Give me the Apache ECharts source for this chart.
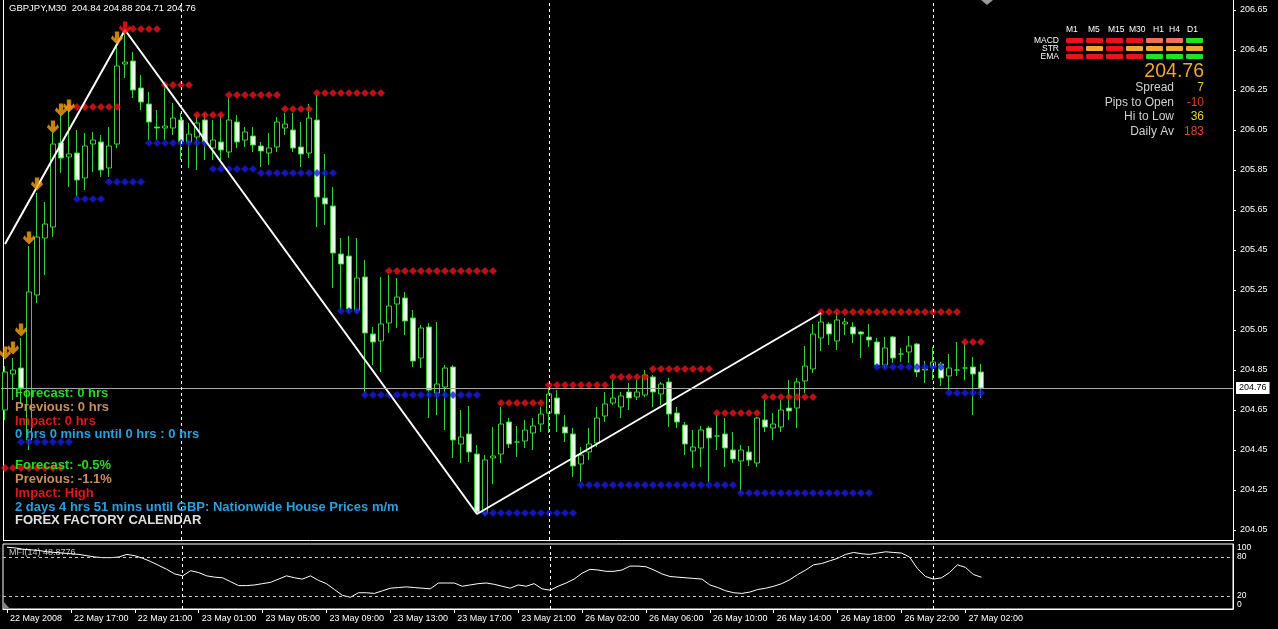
<!DOCTYPE html>
<html><head><meta charset="utf-8">
<script src="https://cdn.jsdelivr.net/npm/echarts@6/dist/echarts.min.js"></script>
<style>html,body{margin:0;padding:0;background:#000;}#c{width:1278px;height:629px;}</style>
</head><body><div id="c"></div>
<script>
// ---------------- DATA ----------------
const symbolTitle = 'GBPJPY,M30';
const headerValues = ['204.84', '204.88', '204.71', '204.76'];

// bar sessions (M30 bars): [day, first bar, last bar]
const daySessions = [['22 May', '13:00', '23:30'], ['23 May', '00:00', '22:30'], ['26 May', '00:00', '23:30'], ['27 May', '00:00', '03:00']];
const totalSlots = 154;

// [open, high, low, close]
const bars = [
  [204.65,204.87,204.60,204.84],[204.83,204.91,204.70,204.85],[204.86,205.01,204.68,204.76],[204.50,205.47,204.45,205.24],
  [205.225,205.735,205.185,205.515],[205.51,205.69,205.325,205.58],[205.565,206.035,205.515,205.98],[205.985,206.125,205.835,205.91],
  [205.915,206.165,205.765,205.93],[205.935,206.05,205.715,205.80],[205.81,206.035,205.75,205.97],[205.98,206.04,205.84,206.00],
  [205.99,206.025,205.815,205.85],[205.86,206.065,205.815,205.97],[205.98,206.475,205.96,206.37],[206.38,206.55,206.31,206.39],
  [206.395,206.44,206.21,206.25],[206.26,206.325,206.15,206.19],[206.18,206.24,206.00,206.09],[206.065,206.15,206.00,206.06],
  [206.06,206.275,206.00,206.07],[206.06,206.185,206.025,206.11],[206.10,206.135,205.90,205.99],[205.99,206.085,205.86,206.03],
  [206.015,206.125,205.85,206.085],[206.10,206.135,205.90,205.99],[205.96,206.10,205.90,206.00],[205.99,206.125,205.90,205.95],
  [205.94,206.21,205.91,206.10],[206.09,206.125,205.96,205.99],[206.00,206.065,205.965,206.04],[206.02,206.065,205.94,205.975],
  [205.97,205.99,205.865,205.945],[205.935,206.035,205.875,205.96],[205.965,206.115,205.94,206.09],[206.06,206.135,206.025,206.08],
  [206.05,206.135,205.94,205.96],[205.965,206.09,205.865,205.93],[205.935,206.18,205.91,206.11],[206.10,206.225,205.565,205.715],
  [205.71,205.93,205.575,205.68],[205.67,205.765,205.26,205.435],[205.43,205.51,205.15,205.38],[205.42,205.52,205.135,205.155],
  [205.15,205.51,205.135,205.31],[205.315,205.40,204.735,205.035],[205.03,205.065,204.875,204.99],[204.995,205.315,204.84,205.08],
  [205.085,205.325,205.035,205.17],[205.18,205.31,205.06,205.215],[205.21,205.24,205.025,205.095],[205.11,205.15,204.865,204.895],
  [204.91,205.075,204.86,205.06],[205.065,205.085,204.61,204.75],[204.735,205.09,204.625,204.78],[204.765,204.875,204.55,204.86],
  [204.865,204.875,204.41,204.50],[204.48,204.65,204.385,204.515],[204.53,204.67,204.39,204.44],[204.43,204.475,204.13,204.14],
  [204.135,204.425,204.125,204.40],[204.41,204.565,204.28,204.42],[204.43,204.665,204.385,204.58],[204.59,204.61,204.46,204.48],
  [204.49,204.57,204.415,204.49],[204.495,204.60,204.46,204.55],[204.535,204.61,204.45,204.57],[204.58,204.665,204.54,204.63],
  [204.635,204.76,204.535,204.73],[204.71,204.75,204.54,204.63],[204.565,204.625,204.49,204.535],[204.53,204.56,204.315,204.37],
  [204.38,204.465,204.29,204.425],[204.44,204.56,204.40,204.48],[204.485,204.665,204.465,204.61],[204.62,204.74,204.59,204.68],
  [204.685,204.80,204.675,204.71],[204.665,204.74,204.61,204.72],[204.74,204.785,204.65,204.71],[204.715,204.80,204.70,204.74],
  [204.725,204.85,204.715,204.825],[204.815,204.825,204.665,204.74],[204.73,204.79,204.675,204.78],[204.79,204.81,204.565,204.63],
  [204.635,204.665,204.56,204.59],[204.575,204.59,204.425,204.48],[204.445,204.55,204.36,204.465],[204.46,204.57,204.365,204.55],
  [204.56,204.57,204.285,204.51],[204.52,204.625,204.45,204.52],[204.53,204.61,204.365,204.46],[204.45,204.54,204.385,204.405],
  [204.395,204.475,204.235,204.45],[204.44,204.47,204.37,204.40],[204.385,204.615,204.365,204.61],[204.60,204.70,204.54,204.565],
  [204.56,204.635,204.50,204.58],[204.565,204.70,204.54,204.65],[204.66,204.80,204.60,204.645],[204.66,204.81,204.56,204.79],
  [204.795,204.97,204.735,204.87],[204.855,205.08,204.835,205.03],[205.01,205.135,204.945,205.09],[205.08,205.09,204.975,205.03],
  [204.995,205.135,204.95,205.10],[205.08,205.11,205.025,205.09],[205.065,205.09,204.985,205.03],[205.04,205.045,204.91,205.03],
  [205.015,205.08,204.965,205.00],[204.99,205.01,204.87,204.875],[204.875,205.015,204.86,204.96],[205.015,205.02,204.885,204.91],
  [204.93,204.96,204.89,204.93],[204.94,205.02,204.885,204.97],[204.98,204.985,204.815,204.84],[204.855,204.895,204.785,204.85],
  [204.865,204.965,204.80,204.89],[204.88,204.89,204.77,204.81],[204.82,204.93,204.75,204.86],[204.85,204.99,204.82,204.85],
  [204.86,204.99,204.80,204.86],[204.865,204.915,204.625,204.83],[204.84,204.88,204.71,204.76]
];

const mfi = [95,94,92,91,90,88,87,86,85,84,82,80,79,79,80,84,82,78,73,67,61,54,51,59,56,51,49,48,42,36,36,37,39,41,46,51,48,46,51,44,
  39,30,21,18,25,25,24,28,32,33,34,33,32,31,40,40,40,35,37,39,40,38,35,32,37,35,39,31,29,35,40,46,55,61,60,58,58,60,66,66,
  65,60,54,50,49,48,47,46,37,33,28,25,24,26,30,32,35,39,45,53,60,68,70,74,78,84,87,85,84,86,88,87,86,80,62,50,46,48,56,68,
  64,53,48.8776];
const mfiLabel = 'MFI(14) 48.8776';

// zigzag pivots: [bar, price]
const zigzag = [[0,205.48],[15,206.55],[59,204.13],[102,205.135]];
// resistance / support dot levels: [firstBar, lastBar, price]
const redLevels = [[0,7,204.36],[8,14,206.165],[16,19,206.555],[20,23,206.275],[24,27,206.125],[28,34,206.225],[35,38,206.155],
  [39,47,206.235],[48,61,205.345],[62,67,204.685],[68,75,204.775],[76,80,204.815],[81,88,204.855],[89,94,204.635],[95,101,204.715],
  [102,119,205.14],[120,122,204.99]];
const blueLevels = [[2,8,204.49],[9,12,205.705],[13,17,205.79],[18,25,205.985],[26,31,205.855],[32,41,205.835],[42,44,205.145],
  [45,59,204.725],[60,71,204.135],[72,91,204.275],[92,108,204.235],[109,117,204.865],[118,122,204.735]];
// down arrows: [bar, price]
const sellArrows = [[0,204.935],[1,204.96],[2,205.05],[3,205.51],[4,205.78],[6,206.065],[7,206.15],[8,206.17],[14,206.51]];
const peakArrow = [[15,206.56]];
const dayBreaks = [22, 68, 116];
const lastPrice = 204.76;
const priceTicks = [204.05,204.25,204.45,204.65,204.85,205.05,205.25,205.45,205.65,205.85,206.05,206.25,206.45,206.65];
const mfiTicks = [100, 80, 20, 0];
const mfiLevels = [80, 20];
const tickBars = [0,8,16,24,32,40,48,56,64,72,80,88,96,104,112,120];
const tickLabels = ['22 May 2008','22 May 17:00','22 May 21:00','23 May 01:00','23 May 05:00','23 May 09:00','23 May 13:00','23 May 17:00',
  '23 May 21:00','26 May 02:00','26 May 06:00','26 May 10:00','26 May 14:00','26 May 18:00','26 May 22:00','27 May 02:00'];

// info panel
const tfLabels = ['M1','M5','M15','M30','H1','H4','D1'];
const rowLabels = ['MACD','STR','EMA'];
const signalRows = [
  ['red','red','red','red','salmon','salmon','green'],
  ['red','orange','red','orange','orange','orange','orange'],
  ['red','red','red','red','green','green','green']
];
const bigPrice = '204.76';
const statLabels = ['Spread','Pips to Open','Hi to Low','Daily Av'];
const statValues = ['7','-10','36','183'];

// news block
const newsLines = [
  ['Forecast: 0 hrs','fc'],['Previous: 0 hrs','pv'],['Impact: 0 hrs','im'],['0 hrs 0 mins until 0 hrs : 0 hrs','un'],
  ['Forecast: -0.5%','fc'],['Previous: -1.1%','pv'],['Impact: High','im'],['2 days 4 hrs 51 mins until GBP: Nationwide House Prices m/m','un'],
  ['FOREX FACTORY CALENDAR','cal']
];

// ---------------- BUILD ----------------
function toMin(s){const p=s.split(':');return +p[0]*60+ +p[1];}
function pad(n){return (n<10?'0':'')+n;}
const categories = [];
daySessions.forEach(([d,a,b])=>{for(let m=toMin(a);m<=toMin(b);m+=30){categories.push(d+' '+pad(Math.floor(m/60))+':'+pad(m%60));}});
for(let k=categories.length;k<totalSlots;k++) categories.push('s'+k);

const candleData = bars.map(b=>[b[0],b[3],b[2],b[1]]);
function levelDots(levels){const out=[];levels.forEach(([a,b,p])=>{for(let i=a;i<=b;i++) out.push([i,p]);});return out;}

const FONT = '"Liberation Sans", Arial, sans-serif';
const GREEN = '#3cd23c';
const sigColor = {red:'#e8141c', salmon:'#f07058', orange:'#f0a830', green:'#1ee61e'};
const newsColor = {fc:'#22dd22', pv:'#c8905a', im:'#e01818', un:'#2aa0e0', cal:'#e0e0e0'};
const arrowPath = 'path://M3.2,0 L6.8,0 L6.8,5.5 L9,3.2 L10,6 L5,11 L0,6 L1,3.2 L3.2,5.5 Z';

const graphics = [];
// frame lines
graphics.push({type:'line',shape:{x1:3.5,y1:0,x2:3.5,y2:540},style:{stroke:'#fff',lineWidth:1}});
graphics.push({type:'line',shape:{x1:3,y1:540.5,x2:1234,y2:540.5},style:{stroke:'#fff',lineWidth:1}});
graphics.push({type:'polygon',shape:{points:[[981,0],[993,0],[987,5]]},style:{fill:'#9a9a9a'}});
graphics.push({type:'polygon',shape:{points:[[4,602],[4,609],[10,609]]},style:{fill:'#808080'}});
// header
graphics.push({type:'text',x:9,y:8,style:{text:symbolTitle+'  '+headerValues.join(' '),fill:'#fff',font:'9.5px '+FONT,align:'left',verticalAlign:'middle'}});
graphics.push({type:'text',x:9,y:553,style:{text:mfiLabel,fill:'#c4c4c4',font:'9px '+FONT,align:'left',verticalAlign:'middle'}});
// info panel
const colX = [1066,1086,1106,1126,1146,1166,1186];
const hdrX = [1066,1088,1108,1129,1153,1169,1187];
tfLabels.forEach((t,k)=>graphics.push({type:'text',x:hdrX[k],y:30,style:{text:t,fill:'#fff',font:'8.5px '+FONT,align:'left',verticalAlign:'middle'}}));
const rowY = [38,46,54];
rowLabels.forEach((t,r)=>{
  graphics.push({type:'text',x:1059,y:rowY[r]+2.5,style:{text:t,fill:'#fff',font:'8.5px '+FONT,align:'right',verticalAlign:'middle'}});
  signalRows[r].forEach((c,k)=>graphics.push({type:'rect',shape:{x:colX[k],y:rowY[r],width:17,height:5,r:1},style:{fill:sigColor[c]}}));
});
graphics.push({type:'text',x:1204,y:72,style:{text:bigPrice,fill:'#f0a830',font:'19.5px '+FONT,align:'right',verticalAlign:'middle'}});
const statY = [88,102.5,117,132];
const statCol = ['#e8c838','#d84020','#e8d040','#d85018'];
statLabels.forEach((t,k)=>{
  graphics.push({type:'text',x:1174,y:statY[k],style:{text:t,fill:'#d0d0d0',font:'12px '+FONT,align:'right',verticalAlign:'middle'}});
  graphics.push({type:'text',x:1204,y:statY[k],style:{text:statValues[k],fill:statCol[k],font:'12px '+FONT,align:'right',verticalAlign:'middle'}});
});
// news text
const newsY = [393,407,421,434.5,465,479,493,507,520];
newsLines.forEach(([t,c],k)=>graphics.push({type:'text',x:15,y:newsY[k],z:100,style:{text:t,fill:newsColor[c],font:'bold 13px '+FONT,align:'left',verticalAlign:'middle'}}));

const option = {
  backgroundColor:'#000',
  animation:false,
  grid:[
    {left:1, top:0, width:1232, height:540, show:false},
    {left:3, top:544, width:1230, height:65, show:true, borderColor:'#fff', borderWidth:1, backgroundColor:'#000'}
  ],
  xAxis:[
    {type:'category', gridIndex:0, data:categories, show:false, boundaryGap:true},
    {type:'category', gridIndex:1, data:categories, boundaryGap:true,
      axisLine:{show:true, lineStyle:{color:'#fff'}},
      axisTick:{show:true, alignWithLabel:true, length:4, lineStyle:{color:'#fff'}, interval:(i)=>tickBars.indexOf(i)>=0},
      axisLabel:{show:true, color:'#fff', fontSize:9, fontFamily:FONT, align:'left', margin:5, padding:[0,0,0,3],
        interval:(i)=>tickBars.indexOf(i)>=0, formatter:(v,i)=>{const k=tickBars.indexOf(i);return k>=0?tickLabels[k]:'';}},
      splitLine:{show:false}}
  ],
  yAxis:[
    {type:'value', gridIndex:0, position:'right', min:204.0, max:206.70, scale:true,
      axisLine:{show:true, lineStyle:{color:'#fff'}},
      axisTick:{show:true, length:3, lineStyle:{color:'#fff'}, customValues:priceTicks},
      axisLabel:{show:true, color:'#fff', fontSize:9, fontFamily:FONT, margin:7, customValues:priceTicks, formatter:(v)=>v.toFixed(2)},
      splitLine:{show:false}},
    {type:'value', gridIndex:1, position:'right', min:0, max:100,
      axisLine:{show:true, lineStyle:{color:'#fff'}},
      axisTick:{show:false},
      axisLabel:{show:true, color:'#fff', fontSize:8.5, fontFamily:FONT, margin:4, customValues:mfiTicks,
        formatter:(v)=> v===100?'{t|100}':(v===0?'{b|0}':String(v)),
        rich:{t:{padding:[7,0,0,0],color:'#fff',fontSize:8.5,fontFamily:FONT}, b:{padding:[0,0,8,0],color:'#fff',fontSize:8.5,fontFamily:FONT}}},
      splitLine:{show:false}}
  ],
  series:[
    {type:'candlestick', name:'price', xAxisIndex:0, yAxisIndex:0, data:candleData, barWidth:5,
      itemStyle:{color:'#000', color0:'#e9ffe6', borderColor:GREEN, borderColor0:GREEN, borderWidth:1},
      markLine:{silent:true, symbol:['none','none'], animation:false,
        data:[
          {yAxis:lastPrice, lineStyle:{color:'#a8a8a8', type:'solid', width:1},
            label:{show:true, position:'end', distance:3, formatter:lastPrice.toFixed(2), backgroundColor:'#fff', color:'#000', fontSize:9, fontFamily:FONT, padding:[2,3,1,3]}},
          ...dayBreaks.map(d=>({xAxis:d, lineStyle:{color:'#fff', type:[3,3], width:1}, label:{show:false}}))
        ]}},
    {type:'line', name:'zigzag', xAxisIndex:0, yAxisIndex:0, data:zigzag, showSymbol:false, symbol:'none',
      lineStyle:{color:'#fff', width:2}, z:4},
    {type:'scatter', name:'resistance', xAxisIndex:0, yAxisIndex:0, data:levelDots(redLevels), symbol:'diamond', symbolSize:8,
      itemStyle:{color:'#e8141c'}, z:3},
    {type:'scatter', name:'support', xAxisIndex:0, yAxisIndex:0, data:levelDots(blueLevels), symbol:'diamond', symbolSize:8,
      itemStyle:{color:'#1a1ae0'}, z:3},
    {type:'scatter', name:'sell', xAxisIndex:0, yAxisIndex:0, data:sellArrows, symbol:arrowPath, symbolSize:[12,13],
      itemStyle:{color:'#f5a41a'}, z:5},
    {type:'scatter', name:'peak', xAxisIndex:0, yAxisIndex:0, data:peakArrow, symbol:arrowPath, symbolSize:[12,13],
      itemStyle:{color:'#ff1414'}, z:6},
    {type:'line', name:'MFI', xAxisIndex:1, yAxisIndex:1, data:mfi, showSymbol:false, symbol:'none',
      lineStyle:{color:'#fff', width:1},
      markLine:{silent:true, symbol:['none','none'], animation:false, label:{show:false},
        data:[
          ...mfiLevels.map(v=>({yAxis:v, lineStyle:{color:'#c8c8c8', type:[3,3], width:1}})),
          ...dayBreaks.map(d=>({xAxis:d, lineStyle:{color:'#fff', type:[3,3], width:1}}))
        ]}}
  ],
  graphic: graphics
};
const chart = echarts.init(document.getElementById('c'), null, {renderer:'canvas'});
chart.setOption(option);
</script></body></html>
